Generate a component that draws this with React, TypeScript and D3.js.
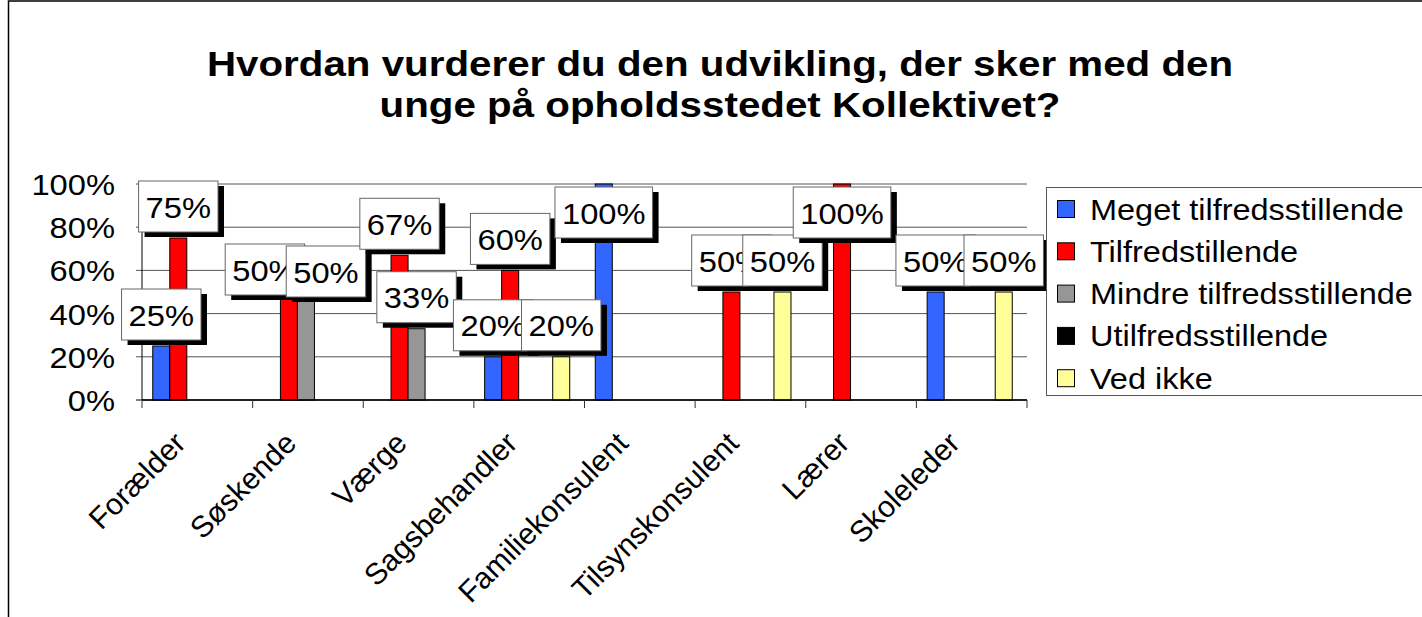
import React from 'react';
import * as d3 from 'd3';

// chart values
const categories = ['Forælder', 'Søskende', 'Værge', 'Sagsbehandler', 'Familiekonsulent', 'Tilsynskonsulent', 'Lærer', 'Skoleleder'];
const seriesNames = ['Meget tilfredsstillende', 'Tilfredstillende', 'Mindre tilfredsstillende', 'Utilfredsstillende', 'Ved ikke'];
const seriesColors = ['#3366FF', '#FF0000', '#969696', '#000000', '#FFFF99'];

const megetTilfreds = [0.25, 0, 0, 0.2, 1, 0, 0, 0.5];
const tilfreds = [0.75, 0.5, 0.67, 0.6, 0, 0.5, 1, 0];
const mindreTilfreds = [0, 0.5, 0.33, 0, 0, 0, 0, 0];
const utilfreds = [0, 0, 0, 0, 0, 0, 0, 0];
const vedIkke = [0, 0, 0, 0.2, 0, 0.5, 0, 0.5];

const yTicks = [0, 0.2, 0.4, 0.6, 0.8, 1];
const titleLines = ['Hvordan vurderer du den udvikling, der sker med den', 'unge på opholdsstedet Kollektivet?'];

// labels that were dragged apart by hand in the original
const labelNudges = [
    { cat: 'Søskende', series: 1, dx: -24, dy: 9 },
    { cat: 'Søskende', series: 2, dx: 20, dy: 11 },
];

const W = 1422;
const H = 617;
const FONT = '"Liberation Sans", Arial, Helvetica, sans-serif';
const SX = 1.09; // the original's text is a bit wider than Arial

// rough Arial advance widths for the label strings
const charW = (c: string) => (c === '%' ? 0.889 : 0.556);
const textEm = (s: string) => s.split('').reduce((a, c) => a + charW(c), 0);

const App = () => {
    const plot = { left: 142, right: 1027, top: 184, bottom: 400 };

    const series = [megetTilfreds, tilfreds, mindreTilfreds, utilfreds, vedIkke];

    const xScale = d3.scaleBand<string>()
        .domain(categories)
        .range([plot.left, plot.right])
        .padding(0);

    // excel gap width 150% -> 0.75 bar on each side
    const xInner = d3.scaleBand<number>()
        .domain(d3.range(series.length))
        .range([0, xScale.bandwidth()])
        .paddingInner(0)
        .paddingOuter(0.75);

    const yScale = d3.scaleLinear().domain([0, 1]).range([plot.bottom, plot.top]);
    const fmt = d3.format('.0%');

    const labelFs = 30;
    const boxH = 51;
    const pad = 7;

    // build labels in category order, then series order (drawing order matters for overlaps)
    const labels: any[] = [];
    categories.forEach((cat, ci) => {
        series.forEach((vals, si) => {
            const v = vals[ci];
            if (!v) return;
            const txt = Math.round(v * 100) + '%';
            const bw = textEm(txt) * labelFs * SX + pad * 2;
            const cx = (xScale(cat) as number) + (xInner(si) as number) + xInner.bandwidth() / 2 - 2;
            const barTop = yScale(v);
            let top = barTop - 6 - boxH;
            if (top < plot.top - 10) top = plot.top + 3;
            const nudge = labelNudges.find(n => n.cat === cat && n.series === si);
            labels.push({
                key: `${ci}-${si}`,
                txt,
                x: cx - bw / 2 + (nudge ? nudge.dx : 0),
                y: top + (nudge ? nudge.dy : 0),
                w: bw,
            });
        });
    });

    const legend = { x: 1046, y: 187, w: 420, h: 208, rowH: 42.3 };

    return (
        <svg width={W} height={H} style={{ position: 'absolute', left: 0, top: 0, background: '#fff' }} fontFamily={FONT}>
            <rect x={0} y={0} width={W} height={H} fill="#fff" />
            {/* chart frame */}
            <rect x={8.5} y={1} width={W + 50} height={H + 50} fill="none" stroke="#000" strokeWidth={1.5} />

            {/* title */}
            {titleLines.map((t, i) => (
                <text key={i} transform={`translate(720,${76 + i * 41}) scale(1.12,1)`} textAnchor="middle"
                    fontSize={36} fontWeight="bold" fill="#000">{t}</text>
            ))}

            {/* gridlines */}
            {yTicks.map(t => (
                <line key={t} x1={plot.left - 6} x2={plot.right} y1={yScale(t)} y2={yScale(t)}
                    stroke={t === 0 ? '#000' : '#555'} strokeWidth={1} />
            ))}

            {/* y tick labels */}
            {yTicks.map(t => (
                <text key={t} transform={`translate(${plot.left - 27},${yScale(t) + 11}) scale(${SX},1)`}
                    textAnchor="end" fontSize={30} fill="#000">{fmt(t)}</text>
            ))}

            {/* bars */}
            {categories.map((cat, ci) => (
                <g key={cat} transform={`translate(${xScale(cat)},0)`}>
                    {series.map((vals, si) => vals[ci] > 0 && (
                        <rect key={si} x={(xInner(si) as number) - 2} y={yScale(vals[ci])}
                            width={xInner.bandwidth()} height={plot.bottom - yScale(vals[ci])}
                            fill={seriesColors[si]} stroke="#000" strokeWidth={1} />
                    ))}
                </g>
            ))}

            {/* axes */}
            <line x1={plot.left} x2={plot.left} y1={plot.top} y2={plot.bottom} stroke="#000" strokeWidth={1} />
            <line x1={plot.left} x2={plot.right} y1={plot.bottom} y2={plot.bottom} stroke="#000" strokeWidth={1.5} />
            {d3.range(categories.length + 1).map(i => {
                const x = plot.left + i * xScale.step();
                return <line key={i} x1={x} x2={x} y1={plot.bottom} y2={plot.bottom + 8} stroke="#333" strokeWidth={1} />;
            })}

            {/* category labels */}
            {categories.map(cat => {
                const cx = (xScale(cat) as number) + xScale.bandwidth() / 2;
                return (
                    <text key={cat} transform={`translate(${cx - 10},445) rotate(-45)`} textAnchor="end"
                        fontSize={30} fill="#000">{cat}</text>
                );
            })}

            {/* data labels */}
            {labels.map(l => (
                <g key={l.key}>
                    <rect x={l.x + 6} y={l.y + 5} width={l.w} height={boxH} fill="#000" />
                    <rect x={l.x} y={l.y} width={l.w} height={boxH} fill="#fff" stroke="#666" strokeWidth={1} />
                    <text transform={`translate(${l.x + l.w / 2},${l.y + boxH / 2 + 11}) scale(${SX},1)`}
                        textAnchor="middle" fontSize={labelFs} fill="#000">{l.txt}</text>
                </g>
            ))}

            {/* legend */}
            <rect x={legend.x + 0.5} y={legend.y + 0.5} width={legend.w} height={legend.h} fill="#fff" stroke="#555" strokeWidth={1} />
            {seriesNames.map((name, i) => {
                const cy = legend.y + 22 + i * legend.rowH;
                return (
                    <g key={name}>
                        <rect x={legend.x + 11.5} y={cy - 8.5} width={17} height={17} fill={seriesColors[i]} stroke="#000" strokeWidth={1} />
                        <text transform={`translate(${legend.x + 44},${cy + 10.5}) scale(1.12,1)`}
                            fontSize={29} fill="#000">{name}</text>
                    </g>
                );
            })}
        </svg>
    );
};

export default App;
